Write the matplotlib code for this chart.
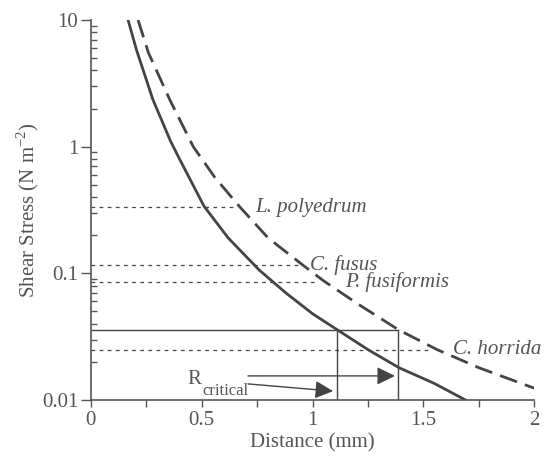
import matplotlib.pyplot as plt
from matplotlib.ticker import FixedLocator, FixedFormatter, LogLocator, NullFormatter

plt.rcParams['font.family'] = ['Liberation Serif', 'DejaVu Serif']
plt.rcParams['mathtext.fontset'] = 'custom'
plt.rcParams['mathtext.rm'] = 'Liberation Serif'

# solid curve
solid_x = [0.168, 0.206, 0.28, 0.36, 0.40, 0.51, 0.62, 0.76, 0.88, 1.0, 1.11, 1.25, 1.39, 1.55, 1.69]
solid_y = [10, 5.8, 2.35, 1.1, 0.8, 0.34, 0.19, 0.106, 0.07, 0.048, 0.036, 0.025, 0.018, 0.0135, 0.01]

# dashed curve
dash_x = [0.213, 0.26, 0.357, 0.462, 0.56, 0.673, 0.8, 0.957, 1.047, 1.2, 1.386, 1.562, 1.75, 2.0]
dash_y = [10, 5.5, 2.33, 1.0, 0.57, 0.333, 0.19, 0.116, 0.088, 0.058, 0.036, 0.025, 0.018, 0.0124]

# species thresholds
species = ['L. polyedrum', 'C. fusus', 'P. fusiformis', 'C. horrida']
stress = [0.333, 0.116, 0.086, 0.025]
dotted_end = [0.64, 0.957, 1.01, 1.535]
label_x = [0.74, 0.99, 1.147, 1.635]

# critical stress and the two critical distances
tau_crit = 0.036
r_crit = [1.109, 1.387]

ink = '#444444'
txt = '#555555'

fig = plt.figure(figsize=(5.44, 4.58), dpi=100)
ax = fig.add_axes([0.167, 0.1266, 0.815, 0.8297])

ax.plot(solid_x, solid_y, color=ink, lw=2.0, solid_joinstyle='round')
ax.plot(dash_x, dash_y, color=ink, lw=2.0, dashes=(6.5, 3))

for name, s, xe, lx in zip(species, stress, dotted_end, label_x):
    ax.plot([0, xe], [s, s], color=ink, lw=0.9, dashes=(3, 3.5))
    ax.text(lx, s, name, style='italic', fontsize=15, color=txt, va='center', ha='left')

# R critical box
ax.plot([0, r_crit[1]], [tau_crit, tau_crit], color=ink, lw=1.0)
for r in r_crit:
    ax.plot([r, r], [0.01, tau_crit], color=ink, lw=1.0)

arrow = dict(arrowstyle='-|>,head_length=0.55,head_width=0.27', mutation_scale=20,
             color=ink, lw=1.0, shrinkA=0, shrinkB=0)
ax.annotate('', xy=(1.372, 0.0155), xytext=(0.709, 0.0155), arrowprops=arrow)
ax.annotate('', xy=(1.093, 0.01175), xytext=(0.709, 0.0134), arrowprops=arrow)
ax.text(0.436, 0.0146, 'R', fontsize=15, color=txt, va='center', ha='left')
ax.text(0.505, 0.0118, 'critical', fontsize=12, color=txt, va='center', ha='left')

ax.set_yscale('log')
ax.set_xlim(0, 2)
ax.set_ylim(0.01, 10)

ax.xaxis.set_major_locator(FixedLocator([0, 0.5, 1, 1.5, 2]))
ax.xaxis.set_major_formatter(FixedFormatter(['0', '0.5', '1', '1.5', '2']))
ax.xaxis.set_minor_locator(FixedLocator([0.25, 0.75, 1.25, 1.75]))
ax.yaxis.set_major_locator(FixedLocator([0.01, 0.1, 1, 10]))
ax.yaxis.set_major_formatter(FixedFormatter(['0.01', '0.1', '1', '10']))
ax.yaxis.set_minor_locator(LogLocator(base=10, subs=range(2, 10)))
ax.yaxis.set_minor_formatter(NullFormatter())

ax.tick_params(axis='x', which='both', direction='out', length=5, width=1.0,
               color=txt, labelsize=15, labelcolor=txt, pad=3)
ax.tick_params(axis='y', which='major', direction='out', length=7, width=1.0,
               color=txt, labelsize=15, labelcolor=txt, pad=2)
ax.tick_params(axis='y', which='minor', direction='in', length=4, width=1.0, color=txt)

for side in ['top', 'right']:
    ax.spines[side].set_visible(False)
for side in ['left', 'bottom']:
    ax.spines[side].set_color(txt)
    ax.spines[side].set_linewidth(1.2)

ax.set_xlabel('Distance (mm)', fontsize=15, color=txt, labelpad=2)
ax.set_ylabel('Shear Stress (N m$^{-2}$)', fontsize=15, color=txt, labelpad=1)

fig.savefig('out.png', dpi=100)
